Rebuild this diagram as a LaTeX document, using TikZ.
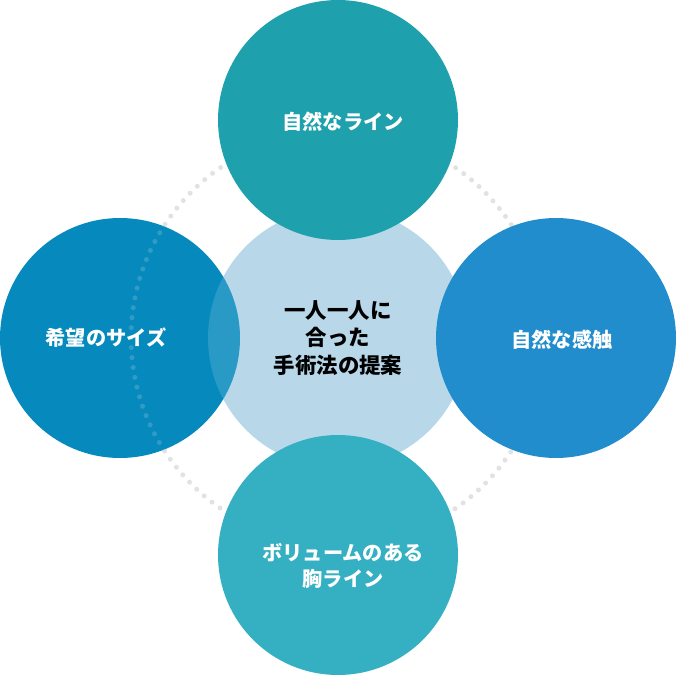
\documentclass[tikz,border=0pt]{standalone}
\usepackage{fontspec}
\setmainfont{Noto Sans CJK JP}
\usepackage{tikz}
\usetikzlibrary{positioning}
\definecolor{topteal}{RGB}{30,161,173}
\definecolor{leftblue}{RGB}{6,138,190}
\definecolor{rightblue}{RGB}{33,141,204}
\definecolor{bottomteal}{RGB}{53,175,194}
\definecolor{corelight}{RGB}{184,216,234}
\definecolor{dotgray}{RGB}{226,226,226}
\tikzset{
  petal/.style={circle, minimum size=4.8cm, inner sep=0pt},
  petaltext/.style={text=white, font=\fontsize{11.5}{15}\selectfont\bfseries,
    align=center, inner sep=0pt},
  core/.style={circle, minimum size=5.2cm, inner sep=0pt, fill=corelight,
    text=black, font=\fontsize{12.2}{15.5}\selectfont\bfseries, align=center},
  ring/.style={circle, minimum size=8.28cm, inner sep=0pt, draw=dotgray,
    line width=0.1cm, line cap=round, dash pattern=on 0pt off 0.2cm},
  veil/.style={fill opacity=0.2, draw opacity=0.2},
}

\begin{document}
\begin{tikzpicture}[x=0.02cm, y=-0.02cm]
  \useasboundingbox (0,0) rectangle (676,675);

  %% dotted ring and centre
  \node[ring] (ring) at (338,338) {};
  \node[core] (core) at (338,338) {一人一人に\\合った\\手術法の提案};

  %% left circle, with ring and centre showing through
  \node[petal, fill=leftblue] (size) at (120,338) {};
  \begin{scope}
    \clip (120,338) circle (120);
    \node[ring, veil] (ringveil) at (338,338) {};
    \node[core, veil, text opacity=0] (coreveil) at (338,338) {};
  \end{scope}

  %% other circles
  \node[petal, fill=topteal] (line) at (338,120) {};
  \node[petal, fill=rightblue] (touch) at (556,338) {};
  \node[petal, fill=bottomteal] (volume) at (338,555) {};

  %% labels
  \node[petaltext] (sizetext) at (106,338) {希望のサイズ};
  \node[petaltext] (linetext) at (343,122) {自然なライン};
  \node[petaltext] (touchtext) at (562,340) {自然な感触};
  \node[petaltext] (volumetext) at (343,566) {ボリュームのある\\胸ライン};

\end{tikzpicture}
\end{document}
